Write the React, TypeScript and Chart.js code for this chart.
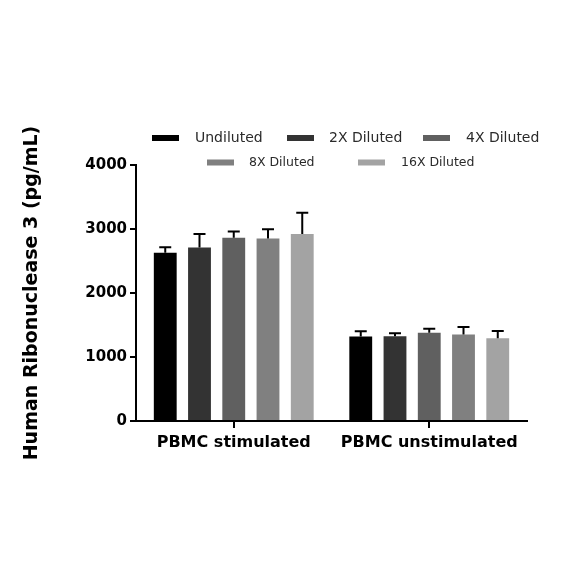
import React, { useEffect, useRef } from "react";
import { Chart, registerables } from "chart.js";

Chart.register(...registerables);

const categories = ["PBMC stimulated", "PBMC unstimulated"];
const seriesLabels = ["Undiluted", "2X Diluted", "4X Diluted", "8X Diluted", "16X Diluted"];
const seriesColors = ["#000000", "#333333", "#606060", "#808080", "#a3a3a3"];
const undiluted = [2630, 1320];
const diluted2x = [2710, 1325];
const diluted4x = [2865, 1380];
const diluted8x = [2850, 1350];
const diluted16x = [2920, 1292];
const err_undiluted = [85, 82];
const err_2x = [212, 47];
const err_4x = [95, 63];
const err_8x = [145, 119];
const err_16x = [335, 114];
const yTicks = [0, 1000, 2000, 3000, 4000];

const values = [undiluted, diluted2x, diluted4x, diluted8x, diluted16x];
const errors = [err_undiluted, err_2x, err_4x, err_8x, err_16x];

// legend layout (swatch x, text x, y centre, font size) in canvas px
const legendLayout = [
  { sx: 152, tx: 195, y: 138, fs: 14 },
  { sx: 287, tx: 329, y: 138, fs: 14 },
  { sx: 423, tx: 466, y: 138, fs: 14 },
  { sx: 207, tx: 249, y: 162.5, fs: 12.5 },
  { sx: 358, tx: 401, y: 162.5, fs: 12.5 },
];

const errorBarPlugin = {
  id: "errorBars",
  afterDatasetsDraw(chart: any) {
    const ctx = chart.ctx;
    const yScale = chart.scales.y;
    ctx.save();
    ctx.strokeStyle = "#000";
    ctx.lineWidth = 2;
    chart.data.datasets.forEach((ds: any, di: number) => {
      const meta = chart.getDatasetMeta(di);
      meta.data.forEach((bar: any, i: number) => {
        const v = ds.data[i];
        const e = ds.errors[i];
        const yTop = yScale.getPixelForValue(v + e);
        ctx.beginPath();
        ctx.moveTo(bar.x, bar.y);
        ctx.lineTo(bar.x, yTop);
        ctx.moveTo(bar.x - 6, yTop);
        ctx.lineTo(bar.x + 6, yTop);
        ctx.stroke();
      });
    });
    ctx.restore();
  },
};

const legendPlugin = {
  id: "customLegend",
  afterDraw(chart: any) {
    const ctx = chart.ctx;
    ctx.save();
    ctx.textBaseline = "middle";
    ctx.textAlign = "left";
    chart.data.datasets.forEach((ds: any, i: number) => {
      const p = legendLayout[i];
      ctx.fillStyle = ds.backgroundColor;
      ctx.fillRect(p.sx, p.y - 3, 27, 6);
      ctx.font = `${p.fs}px 'DejaVu Sans'`;
      ctx.fillStyle = "#2a2a2a";
      ctx.fillText(ds.label, p.tx, p.y);
    });
    ctx.restore();
  },
};

export default function App() {
  const ref = useRef<HTMLCanvasElement>(null);
  useEffect(() => {
    if (!ref.current) return;
    const chart = new Chart(ref.current, {
      type: "bar",
      data: {
        labels: categories,
        datasets: seriesLabels.map((label, i) => ({
          label,
          data: values[i],
          errors: errors[i],
          backgroundColor: seriesColors[i],
          borderWidth: 0,
          categoryPercentage: 0.876,
          barPercentage: 0.667,
        })) as any,
      },
      options: {
        animation: false,
        responsive: true,
        maintainAspectRatio: false,
        layout: { padding: { top: 165, bottom: 131, left: 0, right: 57 } },
        plugins: {
          legend: { display: false },
          tooltip: { enabled: false },
        },
        scales: {
          x: {
            afterFit: (s: any) => { s.height = 32; },
            border: { display: true, color: "#000", width: 2 },
            grid: {
              display: true,
              drawOnChartArea: false,
              drawTicks: true,
              tickLength: 7,
              color: "#000",
              lineWidth: 2,
              offset: false,
            },
            ticks: {
              color: "#000",
              padding: 5,
              font: { family: "'DejaVu Sans'", size: 16, weight: "bold" },
            },
          },
          y: {
            min: 0,
            max: 4000,
            afterFit: (s: any) => { s.width = 136; },
            afterBuildTicks: (s: any) => { s.ticks = yTicks.map((v) => ({ value: v })); },
            border: { display: true, color: "#000", width: 2 },
            grid: {
              display: true,
              drawOnChartArea: false,
              drawTicks: true,
              tickLength: 6,
              color: "#000",
              lineWidth: 2,
            },
            ticks: {
              color: "#000",
              padding: 3,
              callback: (v: any) => String(v),
              font: { family: "'DejaVu Sans'", size: 15, weight: "bold" },
            },
            title: {
              display: true,
              text: "Human Ribonuclease 3 (pg/mL)",
              color: "#000",
              padding: { top: 21, bottom: 0 },
              font: { family: "'DejaVu Sans'", size: 19, weight: "bold" },
            },
          },
        },
      },
      plugins: [errorBarPlugin, legendPlugin],
    });
    return () => chart.destroy();
  }, []);
  return (
    <div style={{ position: "absolute", left: 0, top: 0, width: 584, height: 584, background: "#fff" }}>
      <canvas ref={ref} />
    </div>
  );
}
